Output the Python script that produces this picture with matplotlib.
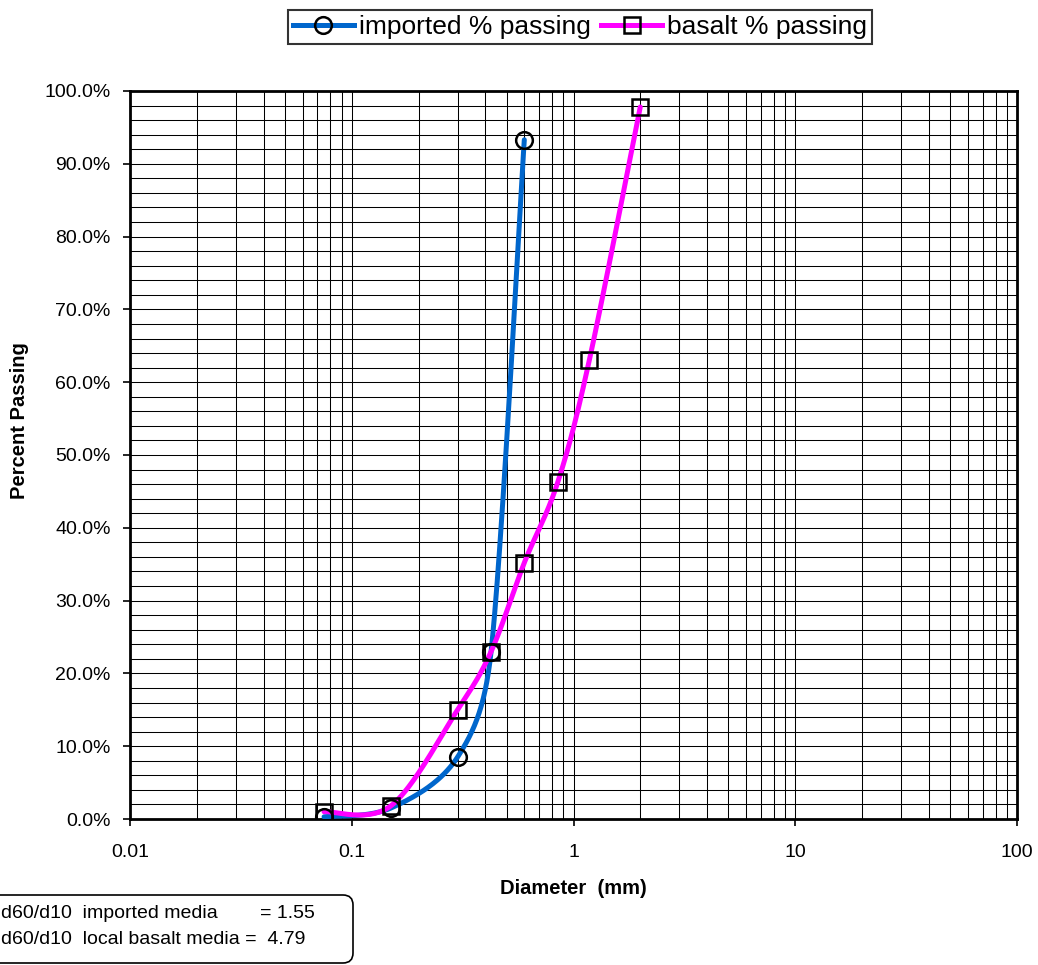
import numpy as np
import matplotlib.pyplot as plt
from matplotlib.patches import FancyBboxPatch
from matplotlib.transforms import IdentityTransform
from matplotlib.ticker import LogLocator, MultipleLocator, FuncFormatter, NullFormatter

plt.rcParams['font.family'] = ['Liberation Sans', 'DejaVu Sans']

# sieve data
imported_d = [0.075, 0.15, 0.3, 0.425, 0.6]
imported_pass = [0.3, 1.5, 8.5, 23.0, 93.3]
basalt_d = [0.075, 0.15, 0.3, 0.425, 0.6, 0.85, 1.18, 2.0]
basalt_pass = [1.0, 1.8, 15.0, 23.0, 35.2, 46.3, 63.1, 97.8]

x_ticks = [0.01, 0.1, 1, 10, 100]
x_labels = ["0.01", "0.1", "1", "10", "100"]

W, H = 1038, 965
PX_DEC = 221.7   # pixels per decade
PX_PCT = 7.28    # pixels per percent


def smooth(xs, ys, n=60):
    # excel-like smoothed line: bezier in pixel space, arm = |p2-p0|/6 capped at half the segment
    P = np.column_stack([np.log10(xs) * PX_DEC, np.asarray(ys) * PX_PCT])
    out = []
    t = np.linspace(0, 1, n)[:, None]
    for i in range(len(P) - 1):
        p0 = P[max(i - 1, 0)]
        p1 = P[i]
        p2 = P[i + 1]
        p3 = P[min(i + 2, len(P) - 1)]
        d12 = np.linalg.norm(p2 - p1)
        t1 = p2 - p0
        t2 = p3 - p1
        f1 = min(1 / 6, d12 / (2 * np.linalg.norm(t1)))
        f2 = min(1 / 6, d12 / (2 * np.linalg.norm(t2)))
        c1 = p1 + t1 * f1
        c2 = p2 - t2 * f2
        seg = (1 - t)**3 * p1 + 3 * (1 - t)**2 * t * c1 + 3 * (1 - t) * t**2 * c2 + t**3 * p2
        out.append(seg if i == 0 else seg[1:])
    out = np.vstack(out)
    return 10 ** (out[:, 0] / PX_DEC), out[:, 1] / PX_PCT


fig = plt.figure(figsize=(W / 100, H / 100), dpi=100)
ax = fig.add_axes([130 / W, 1 - 819 / H, 887 / W, 728 / H])

blue = '#0066CC'
pink = '#FF00FF'

sx, sy = smooth(imported_d, imported_pass)
ax.plot(sx, sy, color=blue, lw=3.6, zorder=3, solid_capstyle='round')
sx, sy = smooth(basalt_d, basalt_pass)
ax.plot(sx, sy, color=pink, lw=3.6, zorder=3, solid_capstyle='round')
ax.plot(imported_d, imported_pass, ls='none', marker='o', ms=12, mfc='none',
        mec='black', mew=1.8, zorder=4)
ax.plot(basalt_d, basalt_pass, ls='none', marker='s', ms=11.5, mfc='none',
        mec='black', mew=1.8, zorder=4)

ax.set_xscale('log')
ax.set_xlim(0.01, 100)
ax.set_ylim(0, 100)
ax.set_xticks(x_ticks)
ax.set_xticklabels(x_labels)
ax.xaxis.set_minor_locator(LogLocator(base=10, subs=np.arange(2, 10)))
ax.xaxis.set_minor_formatter(NullFormatter())
ax.yaxis.set_major_locator(MultipleLocator(10))
ax.yaxis.set_minor_locator(MultipleLocator(2))
ax.yaxis.set_major_formatter(FuncFormatter(lambda v, p: f"{v:.1f}%"))

ax.grid(which='both', color='black', lw=0.75)
ax.set_axisbelow(True)
ax.tick_params(which='major', length=5, width=1.2, labelsize=14, direction='out')
ax.tick_params(axis='x', which='major', pad=13)
ax.tick_params(axis='y', which='major', pad=9)
ax.tick_params(which='minor', length=0)
for s in ax.spines.values():
    s.set_linewidth(2)

fig.text(573 / W, 1 - 888 / H, "Diameter  (mm)", ha='center', va='center',
         fontsize=14.5, fontweight='bold')
fig.text(20 / W, 1 - 421 / H, "Percent Passing", ha='center', va='center',
         rotation=90, fontsize=14.5, fontweight='bold')

# legend
h1, = ax.plot([], [], color=blue, lw=3.6, marker='o', ms=12, mfc='none', mec='black', mew=1.8)
h2, = ax.plot([], [], color=pink, lw=3.6, marker='s', ms=11.5, mfc='none', mec='black', mew=1.8)
leg = fig.legend([h1, h2], ["imported % passing", "basalt % passing"], ncol=2,
                 loc='center', bbox_to_anchor=(580 / W, 1 - 27 / H), fontsize=19,
                 frameon=True, fancybox=False, edgecolor='black', handlelength=2.3,
                 handletextpad=0.2, columnspacing=0.4, borderpad=0.2, borderaxespad=0)
leg.get_frame().set_linewidth(1.5)

# d60/d10 box
box = FancyBboxPatch((-20, 2), 373, 68, boxstyle="round,pad=0,rounding_size=10",
                     transform=IdentityTransform(), fc='white', ec='black', lw=1.2)
fig.patches.append(box)
fig.text(1 / W, 52 / H, "d60/d10  imported media", fontsize=14, va='center')
fig.text(260 / W, 52 / H, "= 1.55", fontsize=14, va='center')
fig.text(1 / W, 25 / H, "d60/d10  local basalt media =  4.79", fontsize=14, va='center')

fig.savefig("out.png", dpi=100)
